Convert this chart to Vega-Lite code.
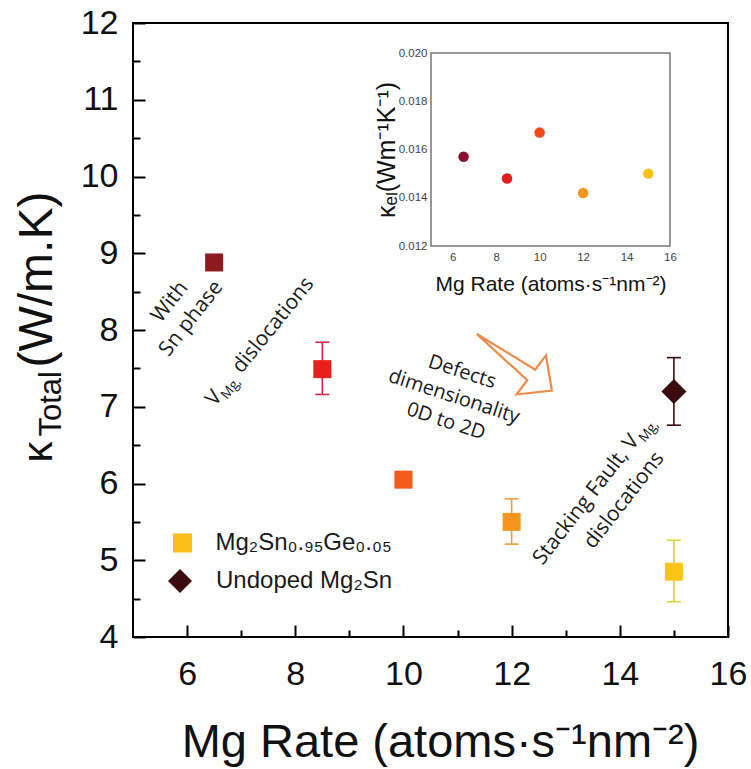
{
  "$schema": "https://vega.github.io/schema/vega-lite/v6.json",
  "width": 595,
  "height": 614,
  "autosize": {"type": "none"},
  "padding": {"left": 133, "top": 23, "right": 23, "bottom": 132},
  "background": "white",
  "config": {
    "view": {"stroke": "#000", "strokeWidth": 2},
    "axis": {"grid": false, "labelFont": "Liberation Sans", "titleFont": "Liberation Sans", "titleFontWeight": "normal"}
  },
  "datasets": {
    "main": [
      {"id": "a", "rate": 6.5, "k": 8.88, "lo": null, "hi": null, "series": "Mg₂Sn₀.₉₅Ge₀.₀₅"},
      {"id": "b", "rate": 8.5, "k": 7.49, "lo": 7.16, "hi": 7.84, "series": "Mg₂Sn₀.₉₅Ge₀.₀₅"},
      {"id": "c", "rate": 10, "k": 6.05, "lo": null, "hi": null, "series": "Mg₂Sn₀.₉₅Ge₀.₀₅"},
      {"id": "d", "rate": 12, "k": 5.5, "lo": 5.21, "hi": 5.8, "series": "Mg₂Sn₀.₉₅Ge₀.₀₅"},
      {"id": "e", "rate": 15, "k": 4.85, "lo": 4.46, "hi": 5.26, "series": "Mg₂Sn₀.₉₅Ge₀.₀₅"},
      {"id": "f", "rate": 15, "k": 7.2, "lo": 6.76, "hi": 7.64, "series": "Undoped Mg₂Sn"}
    ],
    "inset": [
      {"id": "a", "rate": 6.5, "kel": 0.0157},
      {"id": "b", "rate": 8.5, "kel": 0.0148},
      {"id": "c", "rate": 10, "kel": 0.0167},
      {"id": "d", "rate": 12, "kel": 0.0142},
      {"id": "e", "rate": 15, "kel": 0.015}
    ]
  },
  "layer": [
    {
      "data": {"name": "main"},
      "transform": [{"filter": "datum.lo != null"}],
      "mark": {"type": "rule", "strokeWidth": 1.6},
      "encoding": {
        "x": {"field": "rate", "type": "quantitative", "scale": {"domain": [5, 16], "nice": false, "zero": false},
          "axis": {"orient": "bottom", "offset": -12, "values": [6, 8, 10, 12, 14, 16], "format": ".0f",
            "tickSize": 12, "tickWidth": 2, "tickColor": "#000", "domain": false, "labelFontSize": 34, "labelColor": "#111",
            "labelPadding": 20, "labelFlush": false, "labelOverlap": false,
            "title": "Mg Rate (atoms·s⁻¹nm⁻²)", "titleFontSize": 47, "titleColor": "#111",
            "titleX": 307, "titleY": 131, "titleBaseline": "alphabetic", "titleAlign": "center"}},
        "y": {"field": "lo", "type": "quantitative", "scale": {"domain": [4, 12], "nice": false, "zero": false},
          "axis": {"orient": "left", "offset": -12, "values": [4, 5, 6, 7, 8, 9, 10, 11, 12], "format": ".0f",
            "tickSize": 12, "tickWidth": 2, "tickColor": "#000", "domain": false, "labelFontSize": 34, "labelColor": "#111",
            "labelPadding": 15, "labelFlush": false, "labelOverlap": false,
            "title": "(W/m.K)", "titleFontSize": 48, "titleColor": "#111", "titleAngle": 270, "titleAlign": "left",
            "titleBaseline": "alphabetic", "titleX": -94, "titleY": 344}},
        "y2": {"field": "hi"},
        "stroke": {"field": "id", "type": "nominal", "scale": {"domain": ["b", "d", "e", "f"], "range": ["#d6264a", "#f49a3c", "#dcd437", "#3c0b0d"]}, "legend": null}
      }
    },
    {
      "data": {"name": "main"},
      "transform": [{"filter": "datum.lo != null"}],
      "mark": {"type": "tick", "orient": "horizontal", "size": 14, "thickness": 1.6, "opacity": 1},
      "encoding": {
        "x": {"field": "rate", "type": "quantitative", "scale": {"domain": [5, 16], "nice": false, "zero": false}, "axis": null},
        "y": {"field": "lo", "type": "quantitative", "scale": {"domain": [4, 12], "nice": false, "zero": false}, "axis": null},
        "color": {"field": "id", "type": "nominal", "scale": {"domain": ["b", "d", "e", "f"], "range": ["#d6264a", "#f49a3c", "#dcd437", "#3c0b0d"]}, "legend": null}
      }
    },
    {
      "data": {"name": "main"},
      "transform": [{"filter": "datum.lo != null"}],
      "mark": {"type": "tick", "orient": "horizontal", "size": 14, "thickness": 1.6, "opacity": 1},
      "encoding": {
        "x": {"field": "rate", "type": "quantitative", "scale": {"domain": [5, 16], "nice": false, "zero": false}, "axis": null},
        "y": {"field": "hi", "type": "quantitative", "scale": {"domain": [4, 12], "nice": false, "zero": false}, "axis": null},
        "color": {"field": "id", "type": "nominal", "scale": {"domain": ["b", "d", "e", "f"], "range": ["#d6264a", "#f49a3c", "#dcd437", "#3c0b0d"]}, "legend": null}
      }
    },
    {
      "data": {"name": "main"},
      "transform": [{"filter": {"field": "series", "equal": "Mg₂Sn₀.₉₅Ge₀.₀₅"}}],
      "mark": {"type": "point", "shape": "square", "filled": true, "size": 324, "opacity": 1},
      "encoding": {
        "x": {"field": "rate", "type": "quantitative", "scale": {"domain": [5, 16], "nice": false, "zero": false},
          "axis": {"orient": "bottom", "offset": -7, "values": [7, 9, 11, 13, 15], "tickSize": 7, "tickWidth": 2, "tickColor": "#000",
            "labels": false, "domain": false, "title": null}},
        "y": {"field": "k", "type": "quantitative", "scale": {"domain": [4, 12], "nice": false, "zero": false},
          "axis": {"orient": "left", "offset": -7, "values": [4.5, 5.5, 6.5, 7.5, 8.5, 9.5, 10.5, 11.5], "tickSize": 7, "tickWidth": 2, "tickColor": "#000",
            "labels": false, "domain": false,
            "title": "κ", "titleFontSize": 42, "titleColor": "#111", "titleAngle": 270, "titleAlign": "left",
            "titleBaseline": "alphabetic", "titleX": -89, "titleY": 439}},
        "fill": {"field": "id", "type": "nominal", "scale": {"domain": ["a", "b", "c", "d", "e", "f"], "range": ["#8c1a1f", "#e8201c", "#f45a18", "#f7941e", "#fbc417", "#3c0b0d"]}, "legend": null}
      }
    },
    {
      "data": {"name": "main"},
      "transform": [{"filter": {"field": "series", "equal": "Undoped Mg₂Sn"}}],
      "mark": {"type": "point", "shape": "diamond", "filled": true, "size": 625, "opacity": 1},
      "encoding": {
        "x": {"field": "rate", "type": "quantitative", "scale": {"domain": [5, 16], "nice": false, "zero": false}, "axis": null},
        "y": {"field": "k", "type": "quantitative", "scale": {"domain": [4, 12], "nice": false, "zero": false},
          "axis": {"orient": "left", "ticks": false, "labels": false, "domain": false,
            "title": "Total", "titleFontSize": 31, "titleColor": "#111", "titleAngle": 270, "titleAlign": "left",
            "titleBaseline": "alphabetic", "titleX": -73, "titleY": 413}},
        "fill": {"field": "id", "type": "nominal", "scale": {"domain": ["a", "b", "c", "d", "e", "f"], "range": ["#8c1a1f", "#e8201c", "#f45a18", "#f7941e", "#fbc417", "#3c0b0d"]}, "legend": null}
      }
    },
    {
      "data": {"name": "main"},
      "transform": [{"filter": "false"}],
      "mark": {"type": "point", "filled": true, "opacity": 1},
      "encoding": {
        "color": {"field": "series", "type": "nominal", "scale": {"domain": ["Mg₂Sn₀.₉₅Ge₀.₀₅"], "range": ["#fbbd18"]},
          "legend": {"orient": "none", "legendX": 37.5, "legendY": 508, "title": null, "symbolType": "square", "symbolSize": 361, "symbolStrokeWidth": 0,
            "labelFont": "Liberation Sans", "labelFontSize": 24, "labelColor": "#1a1a1a", "labelOffset": 21, "labelLimit": 400, "padding": 0}}
      }
    },
    {
      "data": {"name": "main"},
      "transform": [{"filter": "false"}],
      "mark": {"type": "point", "filled": true, "opacity": 1},
      "encoding": {
        "fill": {"field": "series", "type": "nominal", "scale": {"domain": ["Undoped Mg₂Sn"], "range": ["#3c0b0d"]},
          "legend": {"orient": "none", "legendX": 35, "legendY": 546, "title": null, "symbolType": "diamond", "symbolSize": 576, "symbolStrokeWidth": 0,
            "labelFont": "Liberation Sans", "labelFontSize": 24, "labelColor": "#1a1a1a", "labelOffset": 24, "labelLimit": 400, "padding": 0}}
      }
    },
    {
      "data": {"values": [{}]},
      "mark": {"type": "text", "text": ["With", "Sn phase"], "font": "Open Sans", "fontSize": 21, "angle": 308, "align": "center", "baseline": "middle", "lineHeight": 27, "color": "#1a1a1a"},
      "encoding": {"x": {"datum": 5.684, "type": "quantitative", "scale": {"domain": [5, 16], "nice": false, "zero": false}, "axis": null},
        "y": {"datum": 8.365, "type": "quantitative", "scale": {"domain": [4, 12], "nice": false, "zero": false}, "axis": null}}
    },
    {
      "data": {"values": [{}]},
      "mark": {"type": "text", "text": "V", "font": "Open Sans", "fontSize": 21, "angle": 309, "align": "left", "baseline": "alphabetic", "color": "#1a1a1a"},
      "encoding": {"x": {"datum": 6.516, "type": "quantitative", "scale": {"domain": [5, 16], "nice": false, "zero": false}, "axis": null},
        "y": {"datum": 6.997, "type": "quantitative", "scale": {"domain": [4, 12], "nice": false, "zero": false}, "axis": null}}
    },
    {
      "data": {"values": [{}]},
      "mark": {"type": "text", "text": "Mg,", "font": "Open Sans", "fontSize": 13.5, "angle": 309, "align": "left", "baseline": "alphabetic", "dx": 13, "dy": 5, "color": "#1a1a1a"},
      "encoding": {"x": {"datum": 6.516, "type": "quantitative", "scale": {"domain": [5, 16], "nice": false, "zero": false}, "axis": null},
        "y": {"datum": 6.997, "type": "quantitative", "scale": {"domain": [4, 12], "nice": false, "zero": false}, "axis": null}}
    },
    {
      "data": {"values": [{}]},
      "mark": {"type": "text", "text": "dislocations", "font": "Open Sans", "fontSize": 21, "angle": 309, "align": "left", "baseline": "alphabetic", "dx": 42, "color": "#1a1a1a"},
      "encoding": {"x": {"datum": 6.516, "type": "quantitative", "scale": {"domain": [5, 16], "nice": false, "zero": false}, "axis": null},
        "y": {"datum": 6.997, "type": "quantitative", "scale": {"domain": [4, 12], "nice": false, "zero": false}, "axis": null}}
    },
    {
      "data": {"values": [{}]},
      "mark": {"type": "text", "text": ["Defects", "dimensionality", "0D to 2D"], "font": "Open Sans", "fontSize": 20, "angle": 18, "align": "center", "baseline": "middle", "lineHeight": 26, "color": "#1a1a1a"},
      "encoding": {"x": {"datum": 11.083, "type": "quantitative", "scale": {"domain": [5, 16], "nice": false, "zero": false}, "axis": null},
        "y": {"datum": 7.453, "type": "quantitative", "scale": {"domain": [4, 12], "nice": false, "zero": false}, "axis": null}}
    },
    {
      "data": {"values": [{}]},
      "mark": {"type": "point", "shape": "M -1 0 L 0.45 -0.14 L 0.45 -0.52 L 1 0 L 0.45 0.52 L 0.45 0.14 Z", "size": 8836, "angle": 37, "filled": false, "strokeWidth": 2.2, "color": "#ef8b4a", "opacity": 1},
      "encoding": {"x": {"datum": 12.05, "type": "quantitative", "scale": {"domain": [5, 16], "nice": false, "zero": false}, "axis": null},
        "y": {"datum": 7.58, "type": "quantitative", "scale": {"domain": [4, 12], "nice": false, "zero": false}, "axis": null}}
    },
    {
      "data": {"values": [{}]},
      "mark": {"type": "text", "text": "Stacking Fault, V", "font": "Open Sans", "fontSize": 21, "angle": 308, "align": "left", "baseline": "alphabetic", "color": "#1a1a1a"},
      "encoding": {"x": {"datum": 12.57, "type": "quantitative", "scale": {"domain": [5, 16], "nice": false, "zero": false}, "axis": null},
        "y": {"datum": 4.925, "type": "quantitative", "scale": {"domain": [4, 12], "nice": false, "zero": false}, "axis": null}}
    },
    {
      "data": {"values": [{}]},
      "mark": {"type": "text", "text": "Mg,", "font": "Open Sans", "fontSize": 13.5, "angle": 308, "align": "left", "baseline": "alphabetic", "dx": 160, "dy": 5, "color": "#1a1a1a"},
      "encoding": {"x": {"datum": 12.57, "type": "quantitative", "scale": {"domain": [5, 16], "nice": false, "zero": false}, "axis": null},
        "y": {"datum": 4.925, "type": "quantitative", "scale": {"domain": [4, 12], "nice": false, "zero": false}, "axis": null}}
    },
    {
      "data": {"values": [{}]},
      "mark": {"type": "text", "text": "dislocations", "font": "Open Sans", "fontSize": 21, "angle": 308, "align": "left", "baseline": "alphabetic", "dx": 44, "dy": 30, "color": "#1a1a1a"},
      "encoding": {"x": {"datum": 12.57, "type": "quantitative", "scale": {"domain": [5, 16], "nice": false, "zero": false}, "axis": null},
        "y": {"datum": 4.925, "type": "quantitative", "scale": {"domain": [4, 12], "nice": false, "zero": false}, "axis": null}}
    },
    {
      "data": {"values": [{}]},
      "mark": {"type": "rect", "fillOpacity": 0, "stroke": "#777", "strokeWidth": 1.5},
      "encoding": {
        "x": {"datum": 5, "type": "quantitative", "axis": null, "scale": {"domain": [5, 16], "range": [298, 537], "nice": false, "zero": false}},
        "x2": {"datum": 16},
        "y": {"datum": 0.012, "type": "quantitative", "axis": null, "scale": {"domain": [0.012, 0.02], "range": [223, 30], "nice": false, "zero": false}},
        "y2": {"datum": 0.02}
      }
    },
    {
      "data": {"name": "inset"},
      "mark": {"type": "circle", "size": 110, "opacity": 1},
      "encoding": {
        "x": {"field": "rate", "type": "quantitative", "scale": {"domain": [5, 16], "range": [298, 537], "nice": false, "zero": false},
          "axis": {"orient": "bottom", "offset": -391, "values": [6, 8, 10, 12, 14, 16], "format": ".0f", "ticks": false, "domain": false,
            "labelPadding": 5, "labelFontSize": 11.5, "labelColor": "#444", "labelFlush": false, "labelOverlap": false,
            "title": "Mg Rate (atoms·s⁻¹nm⁻²)", "titleFontSize": 21, "titleColor": "#111", "titleY": 44, "titleBaseline": "alphabetic"}},
        "y": {"field": "kel", "type": "quantitative", "scale": {"domain": [0.012, 0.02], "range": [223, 30], "nice": false, "zero": false},
          "axis": {"orient": "left", "offset": -298, "values": [0.012, 0.014, 0.016, 0.018, 0.02], "format": ".3f", "ticks": false, "domain": false,
            "labelPadding": 4, "labelFontSize": 11.5, "labelColor": "#444", "labelFlush": false, "labelOverlap": false,
            "title": "κₑₗ(Wm⁻¹K⁻¹)", "titleFontSize": 25, "titleColor": "#111", "titleX": -37, "titleBaseline": "alphabetic"}},
        "fill": {"field": "id", "type": "nominal", "scale": {"domain": ["a", "b", "c", "d", "e"], "range": ["#8a0f2f", "#e11d1d", "#f0481c", "#f8951f", "#f6c21a"]}, "legend": null}
      }
    }
  ],
  "resolve": {"scale": {"x": "independent", "y": "independent", "fill": "independent", "color": "independent", "stroke": "independent"}}
}
